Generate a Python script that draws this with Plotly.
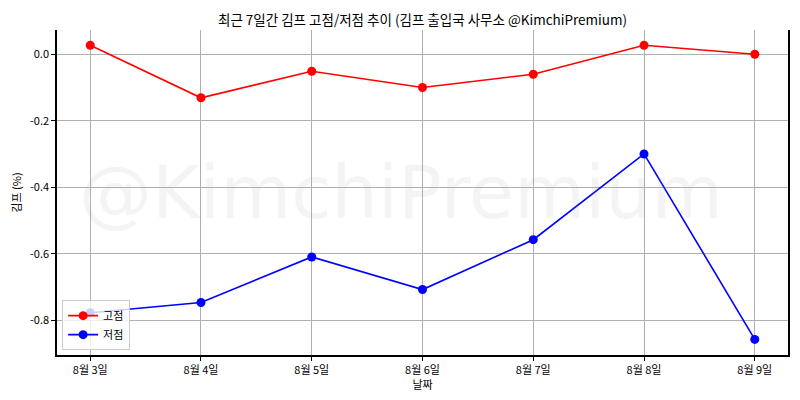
import plotly.graph_objects as go

dates = ["8월 3일", "8월 4일", "8월 5일", "8월 6일", "8월 7일", "8월 8일", "8월 9일"]
high = [0.027, -0.131, -0.051, -0.100, -0.060, 0.027, 0.000]
low = [-0.778, -0.747, -0.610, -0.708, -0.558, -0.300, -0.858]
ytick_vals = [0.0, -0.2, -0.4, -0.6, -0.8]

font = "Noto Sans CJK KR, sans-serif"

fig = go.Figure()
fig.add_trace(go.Scatter(
    x=dates, y=high, name="고점", mode="lines+markers",
    line=dict(color="red", width=1.6), marker=dict(color="red", size=9),
))
fig.add_trace(go.Scatter(
    x=dates, y=low, name="저점", mode="lines+markers",
    line=dict(color="blue", width=1.6), marker=dict(color="blue", size=9),
))

# watermark
fig.add_annotation(
    text="@KimchiPremium", xref="paper", yref="paper", x=0.47, y=0.50,
    showarrow=False, font=dict(family="DejaVu Sans", size=73, color="rgba(150,150,150,0.10)"),
)

# page body has an 8px margin, so the figure is a bit smaller than the window
fig.update_layout(
    width=784, height=384,
    margin=dict(l=49, r=4, t=22, b=37, autoexpand=False),
    paper_bgcolor="white", plot_bgcolor="white",
    font=dict(family=font, size=11, color="black"),
    title=dict(
        text="최근 7일간 김프 고점/저점 추이 (김프 출입국 사무소 @KimchiPremium)",
        x=0.5, xref="paper", xanchor="center", y=0.968, yanchor="middle",
        font=dict(size=13.5),
    ),
    showlegend=True,
    legend=dict(
        x=0.007, y=0.015, xanchor="left", yanchor="bottom",
        bgcolor="rgba(255,255,255,0.8)", bordercolor="#cccccc", borderwidth=1,
        font=dict(size=11), tracegroupgap=0,
    ),
    xaxis=dict(
        title=dict(text="날짜", standoff=0, font=dict(size=11)),
        automargin=False,
        range=[-0.3, 6.3], showgrid=True, gridcolor="#b0b0b0", gridwidth=1,
        showline=True, linecolor="black", linewidth=1.5,
        ticks="outside", ticklen=4, tickcolor="black", zeroline=False,
    ),
    yaxis=dict(
        title=dict(text="김프 (%)", standoff=6, font=dict(size=11)),
        automargin=False,
        range=[-0.905, 0.073], tickvals=ytick_vals,
        ticktext=[f"{v:.1f}" for v in ytick_vals],
        showgrid=True, gridcolor="#b0b0b0", gridwidth=1,
        showline=True, mirror=True, linecolor="black", linewidth=1.5,
        ticks="outside", ticklen=4, tickcolor="black", zeroline=False,
    ),
)

fig.write_html("out.html")
